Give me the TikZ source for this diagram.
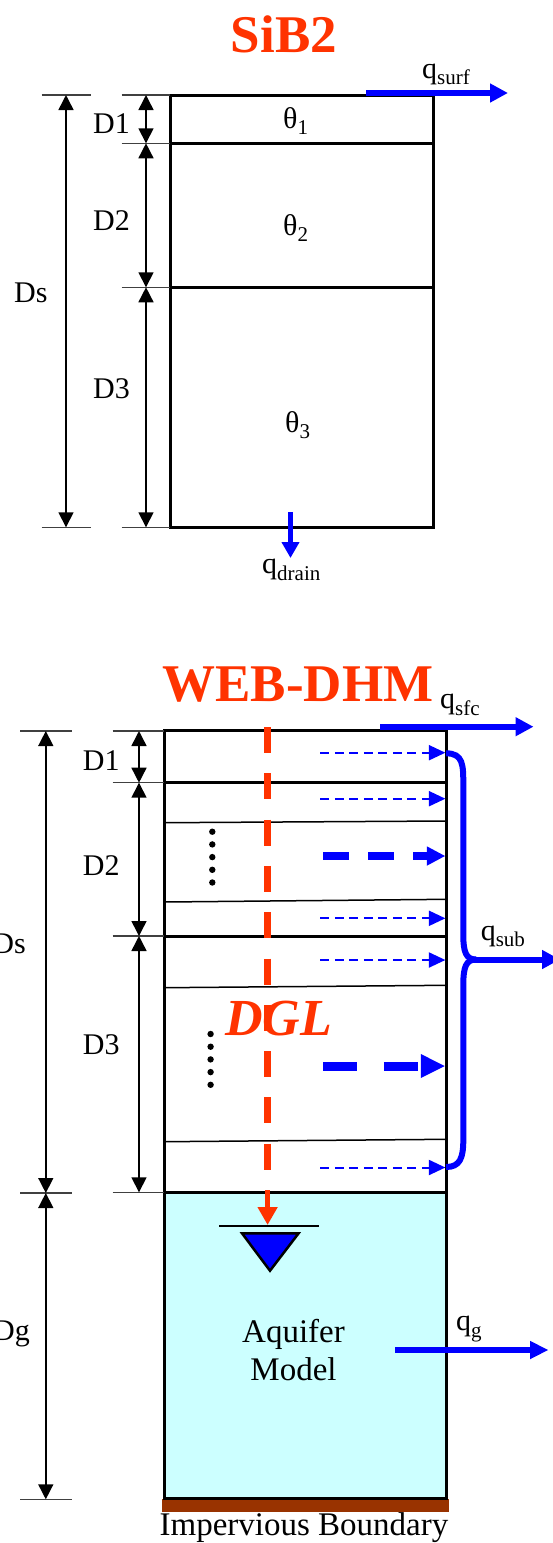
\documentclass[tikz,border=0pt]{standalone}
\usepackage{fontspec}
\setmainfont{Liberation Serif}
\usetikzlibrary{arrows.meta}
\definecolor{tred}{RGB}{255,51,0}
\definecolor{tblue}{RGB}{0,0,255}
\definecolor{aqua}{RGB}{204,255,255}
\definecolor{brownb}{RGB}{153,51,0}
\newcommand{\lbl}{\fontsize{30}{36}\selectfont}
\newcommand{\subx}[1]{\raisebox{-0.22em}{\fontsize{21}{21}\selectfont #1}}
\begin{document}
\begin{tikzpicture}[x=1pt,y=-1pt,
  txt/.style={inner sep=0pt, font=\lbl},
  bigtxt/.style={inner sep=0pt, font=\fontsize{33}{38}\selectfont},
  ttl/.style={inner sep=0pt, text=tred, font=\fontsize{53}{60}\selectfont\bfseries},
  boxline/.style={line width=3pt},
  thinline/.style={line width=1.5pt},
  dimline/.style={line width=1.5pt, {Triangle[length=15pt,width=15pt]}-{Triangle[length=15pt,width=15pt]}},
  dimtick/.style={line width=1.5pt, black!75},
  flow/.style={tblue, line width=6pt, -{Triangle[length=18pt,width=18pt]}},
  smallflow/.style={tblue, line width=2pt, dash pattern=on 9pt off 5.5pt, -{Triangle[length=16.5pt,width=15pt]}},
  brace/.style={tblue, line width=6pt},
  dot/.style={fill=black, draw=none}
]
\useasboundingbox (0,0) rectangle (552,1543);

% ================= SiB2 =================
\node[ttl, anchor=base] (t1) at (284,52) {SiB2};
\draw[boxline] (170,95) rectangle (433.6,527.3);
\draw[boxline] (170,143.3) -- (433.6,143.3);
\draw[boxline] (170,287.3) -- (433.6,287.3);

\coordinate (s0) at (66,95);
\coordinate (s1) at (66,527.3);
\draw[dimtick] (41.5,95) -- (91,95);
\draw[dimtick] (41.5,527.3) -- (91,527.3);
\draw[dimline] (s0) -- (s1);
\foreach \yy in {95,143.3,287.3,527.3} {\draw[dimtick] (121.5,\yy) -- (170,\yy);}
\coordinate (a0) at (146,95);
\coordinate (a1) at (146,143.3);
\coordinate (a2) at (146,287.3);
\coordinate (a3) at (146,527.3);
\draw[dimline] (a0) -- (a1);
\draw[dimline] (a1) -- (a2);
\draw[dimline] (a2) -- (a3);

\node[txt, anchor=base west] (sd1) at (93,133) {D1};
\node[txt, anchor=base west] (sd2) at (93,230) {D2};
\node[txt, anchor=base west] (sd3) at (93,398) {D3};
\node[txt, anchor=base west] (sds) at (14,302) {Ds};
\node[txt, anchor=base west] (th1) at (283,128) {θ\subx{1}};
\node[txt, anchor=base west] (th2) at (283,235) {θ\subx{2}};
\node[txt, anchor=base west] (th3) at (285,432) {θ\subx{3}};

\coordinate (qs0) at (366,93);
\coordinate (qs1) at (508,93);
\draw[flow, line width=5.5pt] (qs0) -- (qs1);
\node[txt, anchor=base west] (qsurf) at (422,78) {q\subx{surf}};
\coordinate (qd0) at (290.5,512);
\coordinate (qd1) at (290.5,558);
\draw[flow, line width=5pt, -{Triangle[length=16pt,width=17pt]}] (qd0) -- (qd1);
\node[txt, anchor=base west] (qdrain) at (262,573.5) {q\subx{drain}};

% ================= WEB-DHM =================
\node[ttl, anchor=base] (t2) at (298,701) {WEB-DHM};

\fill[aqua] (164.4,1192.3) rectangle (446,1498.3);
\fill[brownb] (162,1498.5) rectangle (449,1512);

% thin sloped layer lines
\draw[thinline] (164.4,822.7) -- (446,821);
\draw[thinline] (164.4,902) -- (446,899.3);
\draw[thinline] (164.4,987.7) -- (446,985.3);
\draw[thinline] (164.4,1141.7) -- (446,1139.3);

\draw[boxline] (164.4,730.7) rectangle (446,1498.3);
\draw[boxline] (164.4,782.7) -- (446,782.7);
\draw[boxline] (164.4,936) -- (446,936);
\draw[boxline] (164.4,1192.3) -- (446,1192.3);

% dimensions
\draw[dimtick] (20.4,731) -- (72,731);
\draw[dimtick] (20.4,1193) -- (72,1193);
\draw[dimtick] (20.4,1499.3) -- (72,1499.3);
\coordinate (w0) at (45.8,731);
\coordinate (w1) at (45.8,1193);
\coordinate (w2) at (45.8,1499.3);
\draw[dimline] (w0) -- (w1);
\draw[dimline] (w1) -- (w2);
\foreach \yy in {731,782.7,936,1192.3} {\draw[dimtick] (112.7,\yy) -- (164.4,\yy);}
\coordinate (b0) at (139,731);
\coordinate (b1) at (139,782.7);
\coordinate (b2) at (139,936);
\coordinate (b3) at (139,1192.3);
\draw[dimline] (b0) -- (b1);
\draw[dimline] (b1) -- (b2);
\draw[dimline] (b2) -- (b3);

\node[txt, anchor=base west] (wd1) at (82.7,770) {D1};
\node[txt, anchor=base west] (wd2) at (82.7,875) {D2};
\node[txt, anchor=base west] (wd3) at (82.7,1054) {D3};
\node[txt, anchor=base east] (wds) at (26,953) {Ds};
\node[txt, anchor=base east] (wdg) at (30,1340) {Dg};

% dots
\foreach \yy in {831.7,844.4,857.1,869.8,882.5} {\fill[dot] (212.3,\yy) circle (3.2);}
\foreach \yy in {1034,1046.7,1059.4,1072.1,1084.8} {\fill[dot] (210.6,\yy) circle (3.2);}

% red infiltration line
\coordinate (r0) at (267.6,727);
\coordinate (r1) at (267.6,1170);
\coordinate (r2) at (267.6,1190);
\coordinate (r3) at (267.6,1225);
\draw[tred, line width=7pt, dash pattern=on 26pt off 20.3pt] (r0) -- (r1);
\draw[tred, line width=5pt, -{Triangle[length=18pt,width=19pt]}] (r2) -- (r3);
\node[inner sep=0pt, anchor=base west, text=tred, font=\fontsize{52}{60}\selectfont\bfseries\itshape] (dgl) at (225,1035) {DGL};

% water table
\coordinate (wt0) at (219,1226);
\coordinate (wt1) at (318.6,1226);
\draw[line width=2.5pt] (wt0) -- (wt1);
\draw[line width=2.5pt, fill=tblue, line join=miter] (242,1233.3) -- (298.6,1233.3) -- (270,1270.7) -- cycle;

\node[bigtxt, anchor=base] (aq1) at (293.5,1342) {Aquifer};
\node[bigtxt, anchor=base] (aq2) at (293.5,1380) {Model};
\node[bigtxt, anchor=base] (imp) at (304,1535) {Impervious Boundary};

% lateral flows (small dashed)
\foreach \yy in {752.7,798.7,918.3,960,1167.5} {\draw[smallflow] (320.4,\yy) -- (445.4,\yy);}
% thick dashed
\draw[tblue, line width=7.5pt, dash pattern=on 25.6pt off 19.4pt, -{Triangle[length=18.6pt,width=18pt]}] (323,856) -- (445.4,856);
\draw[tblue, line width=9pt, dash pattern=on 34pt off 26.8pt, -{Triangle[length=24.6pt,width=22pt]}] (323,1066) -- (445.4,1066);

% brace
\draw[brace] (446,753.3) .. controls (463.3,753.3) and (463.3,765) .. (463.3,785) -- (463.3,935) .. controls (463.3,952) and (466,959.5) .. (476,959.5);
\draw[brace] (476,959.5) .. controls (466,959.5) and (463.3,967) .. (463.3,985) -- (463.3,1140) .. controls (463.3,1158) and (460,1167) .. (446,1167);

% outflows
\coordinate (qf0) at (380,726.7);
\coordinate (qf1) at (533.5,726.7);
\draw[flow] (qf0) -- (qf1);
\node[txt, anchor=base west] (qsfc) at (440,708.5) {q\subx{sfc}};
\coordinate (qb0) at (473,959.5);
\coordinate (qb1) at (560,959.5);
\draw[flow] (qb0) -- (qb1);
\node[txt, anchor=base west] (qsub) at (480.6,940) {q\subx{sub}};
\coordinate (qg0) at (395,1350);
\coordinate (qg1) at (548.5,1350);
\draw[flow, -{Triangle[length=18.5pt,width=17pt]}] (qg0) -- (qg1);
\node[txt, anchor=base west] (qg) at (456,1330.5) {q\subx{g}};
\end{tikzpicture}
\end{document}
